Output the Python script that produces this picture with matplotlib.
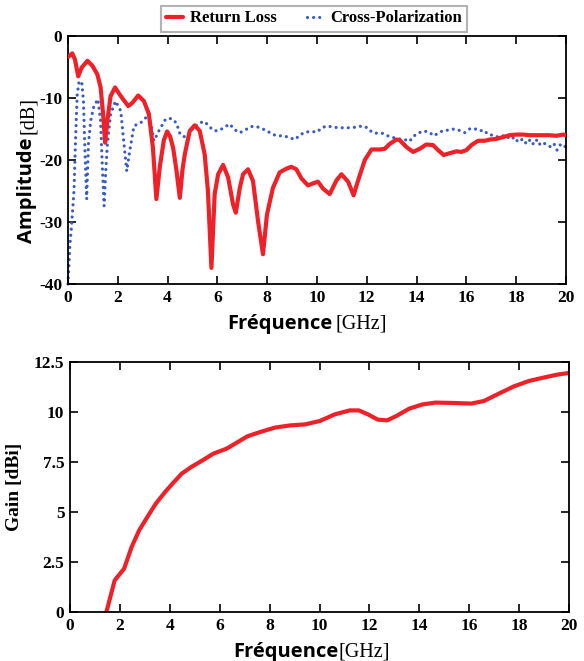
import matplotlib
matplotlib.use("Agg")
import matplotlib.pyplot as plt
from matplotlib.ticker import FuncFormatter

plt.rcParams['axes.unicode_minus'] = False

# ---------------- data ----------------
rl_freq = [0, 0.17, 0.28, 0.41, 0.55, 0.78, 0.98, 1.18, 1.31, 1.41, 1.49, 1.58, 1.71, 1.89,
           2.12, 2.42, 2.58, 2.82, 3.05, 3.25, 3.41, 3.55, 3.69, 3.85, 3.98, 4.1, 4.22, 4.35,
           4.49, 4.6, 4.69, 4.89, 5.09, 5.29, 5.49, 5.62, 5.76, 5.89, 6.03, 6.23, 6.43, 6.63,
           6.74, 6.9, 7.03, 7.23, 7.43, 7.63, 7.83, 7.99, 8.23, 8.5, 8.77, 8.97, 9.17, 9.38,
           9.64, 9.82, 10.04, 10.24, 10.51, 10.78, 10.98, 11.25, 11.47, 11.65, 11.92, 12.19,
           12.52, 12.72, 12.92, 13.19, 13.32, 13.59, 13.86, 14.12, 14.39, 14.66, 14.86, 15.09,
           15.33, 15.6, 15.8, 16.0, 16.2, 16.47, 16.74, 16.94, 17.2, 17.47, 17.74, 18.0, 18.27,
           18.54, 18.81, 19.08, 19.34, 19.61, 19.88, 20.0]
rl_db = [-3.4, -2.8, -3.8, -6.5, -5.1, -4.0, -4.8, -6.2, -8.3, -12.6, -17.2, -13.7, -9.7, -8.3,
         -9.7, -11.3, -10.8, -9.6, -10.5, -12.6, -18, -26.3, -21, -16.8, -15.4, -16.2, -18, -21.5,
         -26.1, -21.5, -19.1, -15.3, -14.4, -15.3, -19.1, -25, -37.4, -25.5, -22.3, -20.8, -22.8, -27.2,
         -28.5, -24.5, -22.3, -21.5, -23.4, -29.8, -35.2, -28.8, -24.5, -22, -21.4, -21.1, -21.5, -23,
         -24.1, -23.8, -23.5, -24.6, -25.5, -23.3, -22.3, -23.5, -25.7, -23.3, -20, -18.3,
         -18.3, -18.2, -17.4, -16.7, -16.8, -17.9, -18.7, -18.2, -17.5, -17.6, -18.4, -19.2,
         -18.9, -18.6, -18.7, -18.4, -17.6, -16.9, -16.9, -16.7, -16.6, -16.3, -16, -15.9, -15.9,
         -16, -16, -16, -16, -16.1, -15.9, -16]

xp_freq = [0, 0.07, 0.15, 0.24, 0.31, 0.37, 0.44, 0.55, 0.62, 0.68, 0.75, 0.82, 0.91, 1.04,
           1.2, 1.31, 1.38, 1.45, 1.51, 1.58, 1.71, 1.91, 2.12, 2.21, 2.36, 2.48, 2.65, 2.92,
           3.12, 3.32, 3.45, 3.65, 3.92, 4.15, 4.35, 4.51, 4.75, 5.02, 5.29, 5.49, 5.69, 5.89,
           6.09, 6.29, 6.49, 6.69, 6.9, 7.14, 7.36, 7.57, 7.77, 7.99, 8.23, 8.44, 8.66, 8.9,
           9.11, 9.31, 9.51, 9.78, 10.0, 10.2, 10.4, 10.64, 10.88, 11.11, 11.31, 11.58, 11.82,
           12.02, 12.23, 12.45, 12.65, 12.89, 13.08, 13.3, 13.52, 13.72, 13.86, 14.06, 14.26,
           14.5, 14.69, 14.9, 15.09, 15.3, 15.5, 15.7, 15.93, 16.13, 16.31, 16.51, 16.71, 16.87,
           17.07, 17.27, 17.58, 17.77, 17.94, 18.07, 18.27, 18.41, 18.57, 18.7, 18.84, 18.97,
           19.12, 19.25, 19.39, 19.52, 19.64, 19.78, 19.88, 20.0]
xp_db = [-40, -34.1, -30.1, -25, -15.9, -9.4, -7.5, -7.3, -10.5, -18.5, -26.3, -17.5, -13.7, -11.3,
         -10.2, -13.7, -21.2, -27.4, -22.3, -17.5, -12.6, -10.5, -12.1, -15.9, -21.8, -18.5, -14.5, -14,
         -13.2, -14, -16.9, -15.3, -13.4, -13.3, -14, -15.9, -16.4, -14.9, -14, -13.8, -14.7, -15.3,
         -15.2, -14.7, -14.2, -15.1, -15.6, -15.1, -14.6, -14.6, -14.9, -15.3, -15.9, -16.1, -16.1, -16.4,
         -16.7, -16, -15.5, -15.4, -15.5, -14.8, -14.5, -14.7, -14.8, -14.8, -14.8, -14.7, -14.5,
         -14.8, -15.6, -15.7, -15.7, -16.2, -16.4, -16.6, -16.7, -17, -16.2, -15.7, -15.3,
         -15.5, -16.1, -15.6, -15.2, -15.2, -15, -15.2, -15.6, -15, -14.9, -15.3, -15.2, -15.9,
         -16, -16.3, -16, -16.7, -16.3, -17.1, -16.6, -17.4, -16.7, -17.5, -16.7, -17.6,
         -17.3, -17.6, -17.9, -17.4, -18.4, -17.5, -17.9, -17.8]

gain_freq = [1.46, 1.79, 2.17, 2.47, 2.77, 3.14, 3.44, 3.81, 4.11, 4.48, 4.86, 5.31, 5.75, 6.28,
             6.73, 7.1, 7.62, 8.22, 8.82, 9.42, 10.01, 10.61, 11.21, 11.58, 11.96, 12.33, 12.71,
             13.08, 13.6, 14.13, 14.65, 15.4, 16.07, 16.59, 17.19, 17.79, 18.39, 18.98, 19.58, 20.0]
gain_dbi = [0, 1.58, 2.17, 3.25, 4.08, 4.83, 5.42, 6.0, 6.42, 6.92, 7.25, 7.58, 7.92, 8.17,
            8.5, 8.78, 9.0, 9.22, 9.33, 9.38, 9.55, 9.88, 10.08, 10.08, 9.87, 9.62, 9.58,
            9.8, 10.17, 10.38, 10.47, 10.45, 10.42, 10.55, 10.92, 11.28, 11.55, 11.72, 11.88, 11.95]

x_ticks = [0, 2, 4, 6, 8, 10, 12, 14, 16, 18, 20]
amp_ticks = [0, -10, -20, -30, -40]
gain_ticks = [0, 2.5, 5, 7.5, 10, 12.5]

# ---------------- style ----------------
RED = '#ee2128'
BLUE = '#3a5cbf'
SERIF = 'Liberation Serif'
SANS = 'Open Sans'
W, H = 584, 661

fig = plt.figure(figsize=(W / 100, H / 100), dpi=100)
ax1 = fig.add_axes([68 / W, 1 - 284 / H, (566 - 68) / W, (284 - 36) / H])
ax2 = fig.add_axes([70 / W, 1 - 612 / H, (569 - 70) / W, (612 - 362) / H])


def style_axes(ax):
    for s in ax.spines.values():
        s.set_linewidth(1.3)
        s.set_color('black')
    ax.tick_params(direction='in', length=6, width=1.2, top=True, right=True,
                   pad=4, labelsize=12.5)
    for lab in ax.get_xticklabels() + ax.get_yticklabels():
        lab.set_fontfamily(SERIF)
        lab.set_fontweight('bold')


# top chart
l2, = ax1.plot(xp_freq, xp_db, color=BLUE, lw=2.3, linestyle=(0, (0.01, 1.9)),
               dash_capstyle='round', label='Cross-Polarization', clip_on=False, zorder=2)
l1, = ax1.plot(rl_freq, rl_db, color=RED, lw=3.0, solid_joinstyle='round',
               solid_capstyle='round', label='Return Loss', zorder=3)
ax1.set_xlim(0, 20)
ax1.set_ylim(-40, 0)
ax1.set_xticks(x_ticks)
ax1.set_yticks(amp_ticks)
style_axes(ax1)

# bottom chart
ax2.plot(gain_freq, gain_dbi, color=RED, lw=3.0, solid_joinstyle='round',
         solid_capstyle='round')
ax2.set_xlim(0, 20)
ax2.set_ylim(0, 12.5)
ax2.set_xticks(x_ticks)
ax2.set_yticks(gain_ticks)
ax2.yaxis.set_major_formatter(FuncFormatter(lambda v, p: '%g' % v))
style_axes(ax2)
ax2.set_ylabel('Gain [dBi]', fontfamily=SERIF, fontsize=14, fontweight='bold', labelpad=8)

leg = fig.legend(handles=[l1, l2], loc='center', bbox_to_anchor=(314 / W, 1 - 18.5 / H),
                 ncol=2, frameon=True, fancybox=False, handlelength=1.05, columnspacing=1.8,
                 borderpad=0.3, handletextpad=0.4, borderaxespad=0,
                 prop={'family': SERIF, 'weight': 'bold', 'size': 12})
leg.get_frame().set_edgecolor('#a0a0a0')
leg.get_frame().set_linewidth(1.5)

# composite axis labels (bold sans + serif)
fig.canvas.draw()
renderer = fig.canvas.get_renderer()


def fx(px):
    return px / W


def fy(py):
    return 1 - py / H


t = fig.text(fx(27), fy(243), 'Amplitude', rotation=90, ha='center', va='bottom',
             fontfamily=SANS, fontweight='bold', fontsize=14.5)
bb = t.get_window_extent(renderer)
fig.text(fx(28), (bb.y1 + 4) / H, '[dB]', rotation=90, ha='center', va='bottom',
         fontfamily=SERIF, fontsize=14.5)


def xlabel(x_left, baseline, gap):
    t = fig.text(fx(x_left), fy(baseline), 'Fréquence', ha='left', va='baseline',
                 fontfamily=SANS, fontweight='bold', fontsize=14.5)
    bb = t.get_window_extent(renderer)
    fig.text((bb.x1 + gap) / W, fy(baseline), '[GHz]', ha='left', va='baseline',
             fontfamily=SERIF, fontsize=14.5)


xlabel(227, 329, 3)
xlabel(233, 657, 0)

fig.savefig('out.png', dpi=100)
